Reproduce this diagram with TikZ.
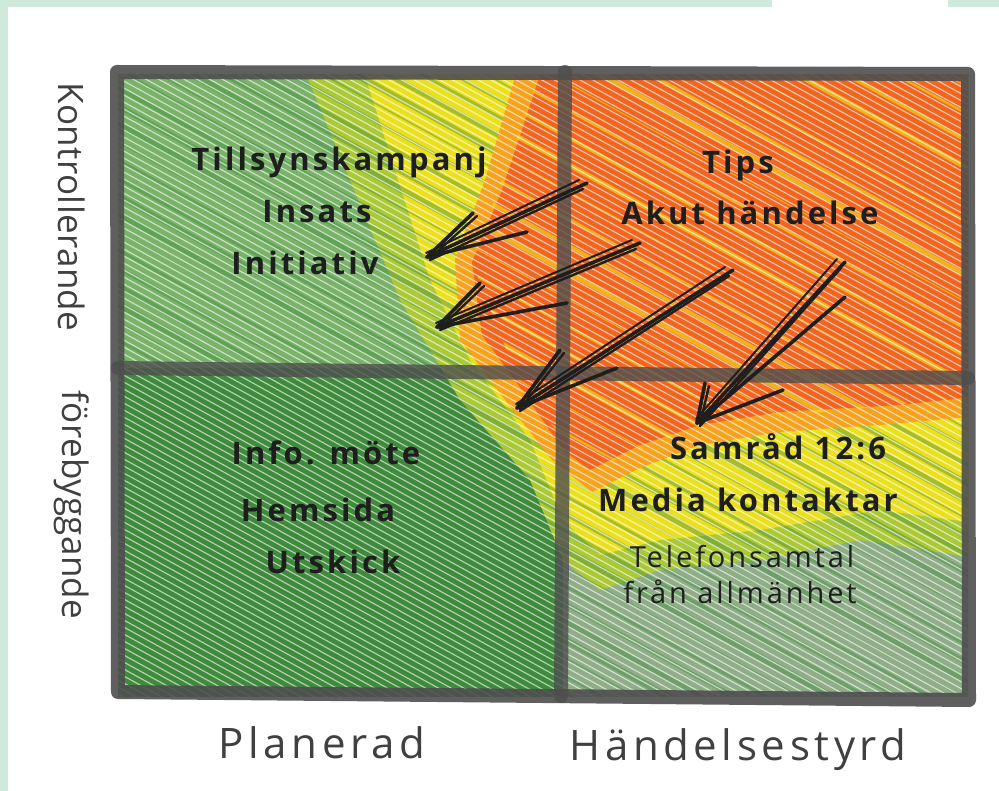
\documentclass[tikz,border=0pt]{standalone}
\usepackage{fontspec}
\setmainfont{Open Sans}
\newfontfamily\marker[LetterSpace=10]{Open Sans}
\newfontfamily\pen[LetterSpace=1]{Open Sans}
\newfontfamily\penwide[LetterSpace=11]{Open Sans}
\usetikzlibrary{arrows.meta}

\definecolor{mint}{HTML}{CFEADB}
\definecolor{framegrey}{HTML}{4E4E4E}
\definecolor{crayongreen}{HTML}{7AB26A}
\definecolor{darkgreen}{HTML}{3F8A3C}
\definecolor{greygreen}{HTML}{8FAD87}
\definecolor{limegreen}{HTML}{ABC936}
\definecolor{crayonyellow}{HTML}{F2E31C}
\definecolor{amber}{HTML}{F6A21E}
\definecolor{crayonorange}{HTML}{F1651F}
\definecolor{ink}{HTML}{1E1E1E}

\tikzset{
    frameline/.style={draw=framegrey, line width=14pt, line cap=round, line join=round, opacity=0.9},
    bigtext/.style={font=\marker\bfseries\fontsize{31}{34}\selectfont, text=ink, inner sep=0pt},
    thintext/.style={font=\marker\fontsize{29}{32}\selectfont, text=ink, inner sep=0pt},
    sidetext/.style={font=\pen\fontsize{35}{38}\selectfont, text=ink!85, inner sep=0pt},
    axistext/.style={font=\penwide\fontsize{42}{46}\selectfont, text=ink!85, inner sep=0pt},
    scribble/.style={draw=ink, line width=3.6pt, line cap=round},
}

% sketched arrow: tip, tail, two barbs
\newcommand{\sketcharrow}[4]{%
    \draw[scribble] (#1) -- (#2);
    \draw[scribble, line width=2.4pt] ([shift={(3,3)}]#1) -- ([shift={(-4,6)}]#2);
    \draw[scribble, line width=2pt] ([shift={(-1,-4)}]#1) -- ([shift={(-8,-3)}]#2);
    \draw[scribble] (#1) -- (#3);
    \draw[scribble, line width=2.4pt] ([shift={(3,1)}]#1) -- ([shift={(4,3)}]#3);
    \draw[scribble] (#1) -- (#4);
}

\begin{document}
\begin{tikzpicture}[x=1pt, y=-1pt]
                    \useasboundingbox (0,0) rectangle (999,791);
                    \fill[white] (0,0) rectangle (999,791);
                    % scan border
                    \fill[mint] (0,0) rectangle (8,791);
                    \fill[mint] (0,0) rectangle (772,7);
                    \fill[mint] (948,0) rectangle (999,7);

                    \begin{scope}
                        \clip (118,75) rectangle (968,696);
                        % crayon areas
                        \fill[crayongreen] (100,60) rectangle (990,710);
                        \fill[darkgreen] (100,368) -- (450,368) -- (563,500) -- (563,710) -- (100,710) -- cycle;
                        \fill[greygreen] (563,420) rectangle (990,710);
                        \fill[limegreen] (300,60) -- (990,60) -- (990,560) -- (860,540) -- (760,560) -- (660,570)
                            -- (600,590) -- (563,560) -- (530,480) -- (460,400) -- (400,300) -- (350,180) -- cycle;
                        \fill[crayonyellow, opacity=0.9] (360,60) -- (990,60) -- (990,525) -- (880,510) -- (760,530) -- (660,540)
                            -- (600,555) -- (563,520) -- (530,440) -- (470,360) -- (430,280) -- (395,170) -- cycle;
                        \foreach \c [evaluate=\c as \w using {1.5+Mod(\c*7,5)*1.2}] in {-470,-452,...,640} {
                            \draw[darkgreen, opacity=0.4, line width=\w pt] (100,\c+62) -- (1000,\c+557);
                        }
                        \fill[amber] (520,60) -- (990,60) -- (990,415) -- (880,425) -- (780,432) -- (700,445)
                            -- (640,468) -- (592,492) -- (552,460) -- (505,400) -- (460,340) -- (455,260) -- (485,180) -- cycle;
                        \fill[crayonorange] (545,60) -- (990,60) -- (990,395) -- (900,405) -- (780,412) -- (700,425)
                            -- (640,445) -- (590,470) -- (563,450) -- (522,390) -- (482,335) -- (472,262) -- (502,190) -- cycle;
                        \begin{scope}
                            \clip (545,60) -- (990,60) -- (990,395) -- (700,425) -- (590,470) -- (522,390) -- (472,262) -- cycle;
                            \foreach \c [evaluate=\c as \w using {1+Mod(\c*11,4)*1.3}] in {-440,-413,...,300} {
                                \draw[crayonyellow, opacity=0.6, line width=\w pt] (100,\c+50) -- (1000,\c+545);
                            }
                        \end{scope}
                        % strokes of the crayon
                        \foreach \c [evaluate=\c as \w using {0.6+Mod(\c*13,7)*0.6}] in {-470,-463,...,640} {
                            \draw[white, opacity=0.6, line width=\w pt] (100,\c+55) -- (1000,\c+550);
                        }
                    \end{scope}

                    % the grid
                    \coordinate (nw) at (117,72);
                    \coordinate (ne) at (968,74);
                    \coordinate (se) at (969,700);
                    \coordinate (sw) at (118,692);
                    \coordinate (nmid) at (565,72);
                    \coordinate (smid) at (561,696);
                    \coordinate (wmid) at (118,368);
                    \coordinate (emid) at (968,378);
                    \draw[frameline] (nw) -- (ne) -- (se) -- (sw) -- cycle;
                    \draw[frameline, opacity=0.8] (nmid) -- (smid);
                    \draw[frameline, opacity=0.8] (wmid) -- (emid);

                    % texts
                    \node[bigtext] (tillsyn) at (339,162) {Tillsynskampanj};
                    \node[bigtext] (insats) at (317,212) {Insats};
                    \node[bigtext] (initiativ) at (305,263) {Initiativ};
                    \node[bigtext] (tips) at (738,165) {Tips};
                    \node[bigtext] (akut) at (750,213) {Akut händelse};
                    \node[bigtext] (info) at (326,453) {Info. möte};
                    \node[bigtext] (hemsida) at (318,510) {Hemsida};
                    \node[bigtext] (utskick) at (333,562) {Utskick};
                    \node[bigtext] (samrad) at (778,447) {Samråd 12:6};
                    \node[bigtext] (media) at (748,500) {Media kontaktar};
                    \node[thintext] (telefon) at (742,557) {Telefonsamtal};
                    \node[thintext] (fran) at (740,592) {från allmänhet};

                    \node[sidetext, rotate=-90] (kontroll) at (72,207) {Kontrollerande};
                    \node[sidetext, rotate=-90] (forebygg) at (72,505) {förebyggande};
                    \node[axistext, anchor=base] (planerad) at (322,758) {Planerad};
                    \node[axistext, anchor=base] (handelse) at (738,760) {Händelsestyrd};

                    % arrows
                    \coordinate (tipA) at (427,257);   \coordinate (tailA) at (587,183);
                    \coordinate (tipB) at (437,327);   \coordinate (tailB) at (640,243);
                    \coordinate (tipC) at (517,408);   \coordinate (tailC) at (733,270);
                    \coordinate (tipD) at (697,423);   \coordinate (tailD) at (845,262);
                    \sketcharrow{tipA}{tailA}{473,213}{527,232}
                    \sketcharrow{tipB}{tailB}{480,283}{567,303}
                    \sketcharrow{tipC}{tailC}{560,350}{617,368}
                    \sketcharrow{tipD}{tailD}{705,383}{783,390}
                    \draw[scribble] (tipD) -- (845,297);
\end{tikzpicture}
\end{document}
